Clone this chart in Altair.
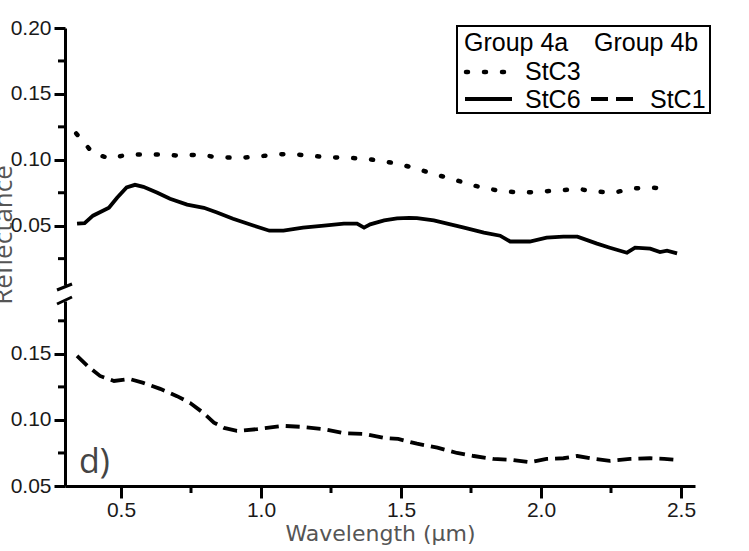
import altair as alt
import pandas as pd

# ---- spectra -------------------------------------------------------------
# StC3 (Group 4a, dotted) - upper panel
stc3_wl = [0.34, 0.40, 0.46, 0.525, 0.59, 0.65, 0.715, 0.78, 0.84, 0.91, 0.97,
           1.05, 1.11, 1.175, 1.24, 1.30, 1.37, 1.43, 1.49, 1.56, 1.62, 1.69,
           1.75, 1.81, 1.87, 1.94, 2.00, 2.06, 2.13, 2.19, 2.26, 2.32, 2.38, 2.46]
stc3_refl = [0.120, 0.105, 0.101, 0.104, 0.104, 0.104, 0.103, 0.104, 0.102, 0.1015, 0.102,
             0.104, 0.1045, 0.103, 0.102, 0.1015, 0.101, 0.099, 0.097, 0.093, 0.089, 0.085,
             0.081, 0.078, 0.076, 0.075, 0.076, 0.0765, 0.078, 0.076, 0.075, 0.078, 0.079, 0.078]

# StC6 (Group 4a, solid) - upper panel
stc6_wl = [0.343, 0.37, 0.40, 0.457, 0.486, 0.52, 0.55, 0.58, 0.63, 0.675, 0.736,
           0.796, 0.843, 0.90, 0.975, 1.03, 1.08, 1.15, 1.225, 1.296, 1.343, 1.368,
           1.39, 1.44, 1.486, 1.53, 1.557, 1.617, 1.725, 1.796, 1.854, 1.89, 1.96,
           2.02, 2.08, 2.13, 2.20, 2.246, 2.307, 2.336, 2.39, 2.425, 2.45, 2.486]
stc6_refl = [0.0515, 0.052, 0.0576, 0.0636, 0.0712, 0.079, 0.081, 0.0795, 0.075, 0.0705, 0.066,
             0.0636, 0.060, 0.0553, 0.050, 0.0462, 0.0462, 0.0485, 0.050, 0.0515, 0.0515, 0.0485,
             0.051, 0.054, 0.0555, 0.056, 0.0558, 0.054, 0.0485, 0.0447, 0.0424, 0.038, 0.038,
             0.041, 0.0417, 0.0417, 0.0364, 0.0333, 0.0295, 0.0333, 0.0326, 0.030, 0.031, 0.029]

# StC1 (Group 4b, dashed) - lower panel
stc1_wl = [0.343, 0.38, 0.425, 0.475, 0.53, 0.58, 0.64, 0.70, 0.746, 0.796, 0.832,
           0.868, 0.914, 0.986, 1.08, 1.15, 1.225, 1.296, 1.37, 1.44, 1.49, 1.557,
           1.63, 1.70, 1.76, 1.83, 1.90, 1.96, 2.02, 2.08, 2.13, 2.19, 2.246, 2.318,
           2.39, 2.44, 2.486]
stc1_refl = [0.1485, 0.141, 0.1333, 0.1295, 0.131, 0.128, 0.1235, 0.118, 0.113, 0.105, 0.098,
             0.094, 0.0917, 0.093, 0.0955, 0.0947, 0.093, 0.090, 0.0894, 0.0864, 0.0856, 0.082,
             0.079, 0.075, 0.0727, 0.0705, 0.0697, 0.068, 0.0705, 0.071, 0.0727, 0.0705, 0.069,
             0.0705, 0.071, 0.0705, 0.0697]

# ---- axes ----------------------------------------------------------------
x_domain = [0.3, 2.55]
x_major = [0.5, 1.0, 1.5, 2.0, 2.5]
x_minor = [0.75, 1.25, 1.75, 2.25]
top_domain = [0.005, 0.20]
top_major = [0.05, 0.10, 0.15, 0.20]
top_minor = [0.025, 0.075, 0.125, 0.175]
bot_domain = [0.05, 0.19]
bot_major = [0.05, 0.10, 0.15]
bot_minor = [0.075, 0.125, 0.175]

W = 630
H_TOP = 257
H_BOT = 185
LABEL_FONT = "Liberation Sans"
TITLE_FONT = "Open Sans"

x_scale = alt.Scale(domain=x_domain, nice=False, zero=False)
top_scale = alt.Scale(domain=top_domain, nice=False, zero=False)
bot_scale = alt.Scale(domain=bot_domain, nice=False, zero=False)

axis_style = dict(
    domainColor="black", domainWidth=3, tickColor="black", tickWidth=3,
    labelFont=LABEL_FONT, labelFontSize=21, labelColor="#1a1a1a",
    grid=False,
)

stc3 = pd.DataFrame({"wl": stc3_wl, "r": stc3_refl})
stc6 = pd.DataFrame({"wl": stc6_wl, "r": stc6_refl})
stc1 = pd.DataFrame({"wl": stc1_wl, "r": stc1_refl})
one = pd.DataFrame({"k": [0]})

# ---- upper panel ---------------------------------------------------------
y_axis_top = alt.Axis(values=top_major, format=".2f", tickSize=11, labelPadding=3,
                      title=None, **axis_style)

stc3_line = alt.Chart(stc3).mark_line(
    color="black", strokeWidth=4.5, strokeDash=[2, 16], strokeCap="round"
).encode(
    x=alt.X("wl:Q", scale=x_scale, axis=None),
    y=alt.Y("r:Q", scale=top_scale, axis=y_axis_top),
)
stc6_line = alt.Chart(stc6).mark_line(color="black", strokeWidth=3.8).encode(
    x=alt.X("wl:Q", scale=x_scale, axis=None),
    y=alt.Y("r:Q", scale=top_scale),
)
top_minor_ticks = alt.Chart(pd.DataFrame({"v": top_minor})).mark_rule(
    color="black", strokeWidth=3
).encode(
    y=alt.Y("v:Q", scale=top_scale), x=alt.value(-7), x2=alt.value(0)
)
y_title = alt.Chart(one).mark_text(
    text="Reflectance", font=TITLE_FONT, fontSize=26, color="#555555",
    angle=270, align="center", baseline="alphabetic"
).encode(x=alt.value(-53), y=alt.value(207))

# legend
legend_box = alt.Chart(one).mark_rect(fill="white", stroke="black", strokeWidth=2).encode(
    x=alt.value(392), x2=alt.value(645), y=alt.value(-2), y2=alt.value(85)
)


def legend_text(label, px, py):
    return alt.Chart(one).mark_text(
        text=label, font=LABEL_FONT, fontSize=25, color="black",
        align="left", baseline="alphabetic"
    ).encode(x=alt.value(px), y=alt.value(py))


def legend_sample(px0, px1, py, **style):
    return alt.Chart(one).mark_rule(color="black", **style).encode(
        x=alt.value(px0), x2=alt.value(px1), y=alt.value(py)
    )


legend = [
    legend_box,
    legend_text("Group 4a", 399, 23),
    legend_text("Group 4b", 529, 23),
    legend_sample(401, 442, 44, strokeWidth=4.5, strokeDash=[2, 16], strokeCap="round"),
    legend_text("StC3", 460, 52),
    legend_sample(400, 447, 71, strokeWidth=3.8),
    legend_text("StC6", 460, 80),
    legend_sample(526, 569, 71, strokeWidth=3.8, strokeDash=[17, 8]),
    legend_text("StC1", 585, 80),
]

top = alt.layer(stc3_line, stc6_line, top_minor_ticks, y_title, *legend).properties(
    width=W, height=H_TOP
)

# ---- lower panel ---------------------------------------------------------
x_axis_bot = alt.Axis(values=x_major, format=".1f", tickSize=12, labelPadding=1,
                      title="Wavelength (μm)", titleFont="DejaVu Sans", titleFontSize=22,
                      titleFontWeight="normal", titleColor="#555555", titlePadding=3,
                      **axis_style)
y_axis_bot = alt.Axis(values=bot_major, format=".2f", tickSize=11, labelPadding=3,
                      title=None, **axis_style)

stc1_line = alt.Chart(stc1).mark_line(
    color="black", strokeWidth=3.8, strokeDash=[14, 7]
).encode(
    x=alt.X("wl:Q", scale=x_scale, axis=x_axis_bot),
    y=alt.Y("r:Q", scale=bot_scale, axis=y_axis_bot),
)
bot_minor_y = alt.Chart(pd.DataFrame({"v": bot_minor})).mark_rule(
    color="black", strokeWidth=3
).encode(
    y=alt.Y("v:Q", scale=bot_scale), x=alt.value(-7), x2=alt.value(0)
)
bot_minor_x = alt.Chart(pd.DataFrame({"v": x_minor})).mark_rule(
    color="black", strokeWidth=3
).encode(
    x=alt.X("v:Q", scale=x_scale), y=alt.value(H_BOT), y2=alt.value(H_BOT + 7)
)
# axis break marks
break_marks = [
    alt.Chart(one).mark_rule(color="black", strokeWidth=3).encode(
        x=alt.value(-8), x2=alt.value(7), y=alt.value(-11), y2=alt.value(-17)
    ),
    alt.Chart(one).mark_rule(color="black", strokeWidth=3).encode(
        x=alt.value(-8), x2=alt.value(7), y=alt.value(3), y2=alt.value(-4)
    ),
]
panel_tag = alt.Chart(one).mark_text(
    text="d)", font=TITLE_FONT, fontSize=34, color="#444444",
    align="left", baseline="alphabetic"
).encode(x=alt.value(14), y=alt.value(172))

bottom = alt.layer(stc1_line, bot_minor_y, bot_minor_x, *break_marks, panel_tag).properties(
    width=W, height=H_BOT
)

chart = alt.vconcat(top, bottom, spacing=16, bounds="flush").properties(
    padding={"left": -9, "top": 17, "right": 5, "bottom": 5}
).configure_view(stroke=None)

chart.save("out.html", embed_options={"renderer": "svg", "actions": False})
